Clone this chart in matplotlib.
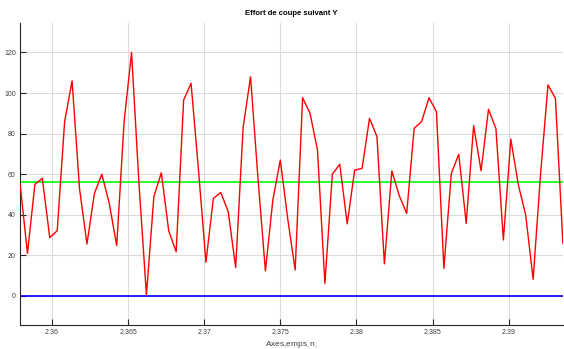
import matplotlib
matplotlib.use("Agg")
import matplotlib.pyplot as plt

# sample times (s)
temps = [2.357910, 2.358398, 2.358887, 2.359375, 2.359863, 2.360352, 2.360840, 2.361328,
         2.361816, 2.362305, 2.362793, 2.363281, 2.363770, 2.364258, 2.364746, 2.365234,
         2.365723, 2.366211, 2.366699, 2.367188, 2.367676, 2.368164, 2.368652, 2.369141,
         2.369629, 2.370117, 2.370605, 2.371094, 2.371582, 2.372070, 2.372559, 2.373047,
         2.373535, 2.374023, 2.374512, 2.375000, 2.375488, 2.375977, 2.376465, 2.376953,
         2.377441, 2.377930, 2.378418, 2.378906, 2.379395, 2.379883, 2.380371, 2.380859,
         2.381348, 2.381836, 2.382324, 2.382813, 2.383301, 2.383789, 2.384277, 2.384766,
         2.385254, 2.385742, 2.386230, 2.386719, 2.387207, 2.387695, 2.388184, 2.388672,
         2.389160, 2.389648, 2.390137, 2.390625, 2.391113, 2.391602, 2.392090, 2.392578,
         2.393066, 2.393555]

# effort de coupe suivant Y
effort_y = [55.5, 21, 55, 58, 28.7, 32.2, 86, 106, 53, 25.6,
            50.5, 60, 45.6, 24.8, 86, 120, 55, 0.5, 49, 60.7,
            32, 21.8, 96.5, 104.8, 62, 16.6, 48.1, 51, 41.5, 14,
            83, 108, 58, 12.3, 47.3, 67, 38, 12.8, 97.7, 90,
            72, 6.2, 60, 64.9, 35.5, 62, 62.9, 87.5, 78.5, 15.8,
            61.6, 49.4, 40.7, 82.6, 85.9, 97.7, 90.8, 13.6, 60.4, 69.8,
            35.8, 83.9, 61.7, 92, 82.4, 27.6, 77.3, 55, 39.9, 8.2,
            60, 104, 97.4, 26]

niveau_moyen = 56.2
niveau_zero = 0.0

x_ticks = [2.36, 2.365, 2.37, 2.375, 2.38, 2.385, 2.39]
x_labels = ["2.36", "2.365", "2.37", "2.375", "2.38", "2.385", "2.39"]
y_ticks = [0, 20, 40, 60, 80, 100, 120]

plt.rcParams['font.family'] = ['Liberation Sans', 'DejaVu Sans']

fig = plt.figure(figsize=(5.64, 3.49), dpi=100)
ax = fig.add_axes([0.0355, 0.0688, 0.9625, 0.8652])

ax.plot(temps, effort_y, color='#ff0000', linewidth=1.0, zorder=3)
ax.axhline(niveau_moyen, color='#00ff00', linewidth=1.2, zorder=2)
ax.axhline(niveau_zero, color='#0000ff', linewidth=1.2, zorder=2)

ax.set_xlim(temps[0], temps[-1])
ax.set_ylim(-14.3, 134.5)
ax.set_xticks(x_ticks)
ax.set_xticklabels(x_labels)
ax.set_yticks(y_ticks)

# grid + spines
ax.grid(True, color='#dcdcdc', linewidth=0.8)
ax.set_axisbelow(True)
ax.spines['top'].set_visible(False)
ax.spines['right'].set_visible(False)
ax.spines['left'].set_color('#262626')
ax.spines['bottom'].set_color('#262626')
ax.tick_params(direction='in', length=4, width=0.8, labelsize=5,
               colors='#262626', labelcolor='#404040', pad=3)

ax.set_title("Effort de coupe suivant Y", fontsize=5.5, fontweight='bold', pad=6)
ax.set_xlabel("Axes,emps$_,$n$_,$", fontsize=6, color='#404040')
ax.xaxis.set_label_coords(0.5, -0.047)

fig.savefig("out.png", dpi=100)
